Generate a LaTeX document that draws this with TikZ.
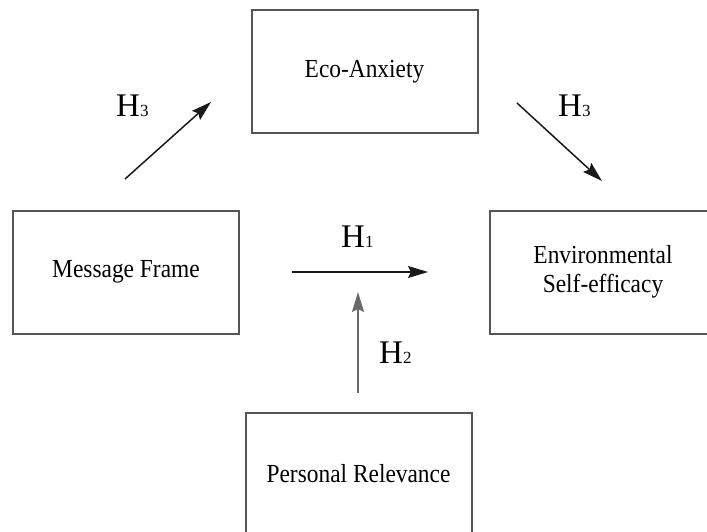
\documentclass[tikz,border=0pt]{standalone}
\usepackage{fontspec}
\setmainfont{Liberation Serif}
\newfontfamily\boxfont{Liberation Serif}[FakeStretch=0.9]
\usetikzlibrary{arrows.meta}
\tikzset{
  box/.style={draw={rgb,255:red,85;green,85;blue,85}, line width=2pt, rectangle,
    inner sep=0pt, minimum width=226pt, minimum height=123pt, align=center,
    font=\boxfont\fontsize{26}{29}\selectfont},
  hyp/.style={anchor=base west, inner sep=0pt, font=\fontsize{33}{33}\selectfont},
  arr/.style={draw={rgb,255:red,25;green,25;blue,25}, line width=1.5pt,
    -{Stealth[length=20pt,width=12pt,inset=3pt]}},
  arrg/.style={arr, draw={rgb,255:red,105;green,105;blue,105}, line width=2pt}
}
\newcommand{\subd}[1]{{\fontsize{17}{17}\selectfont #1}}
\begin{document}
\begin{tikzpicture}[x=1pt,y=-1pt]
\useasboundingbox (0,0) rectangle (707,532);
\node[box] (eco) at (364.5,72) {Eco-Anxiety};
\node[box] (msg) at (126,272) {Message Frame};
\node[box] (env) at (603,272) {Environmental\\Self-efficacy};
\node[box] (per) at (358.5,474) {Personal Relevance};
\coordinate (a1s) at (125,179);
\coordinate (a1e) at (211,102);
\coordinate (a2s) at (517,103);
\coordinate (a2e) at (602,181);
\coordinate (a3s) at (292,272);
\coordinate (a3e) at (428,272);
\coordinate (a4s) at (358,393);
\coordinate (a4e) at (358,292);
\draw[arr] (a1s) -- (a1e);
\draw[arr] (a2s) -- (a2e);
\draw[arr] (a3s) -- (a3e);
\draw[arrg] (a4s) -- (a4e);
\node[hyp] (h3a) at (116,117) {H\subd{3}};
\node[hyp] (h3b) at (558,117) {H\subd{3}};
\node[hyp] (h1) at (341,247) {H\subd{1}};
\node[hyp] (h2) at (379,363) {H\subd{2}};
\end{tikzpicture}
\end{document}
